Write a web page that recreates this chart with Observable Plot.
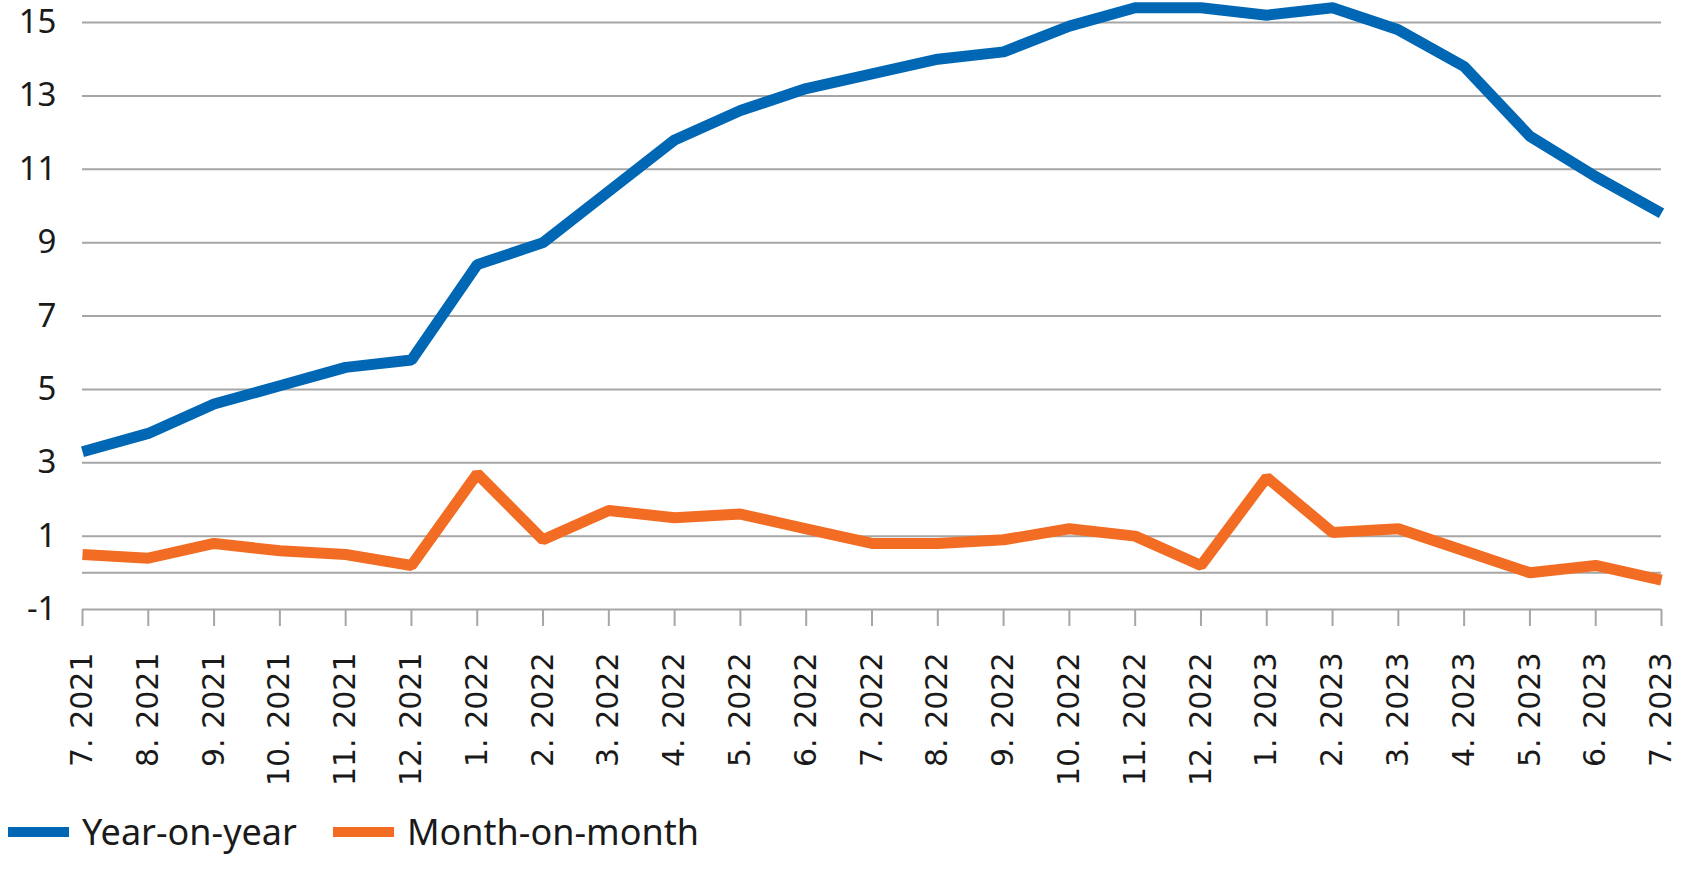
<!DOCTYPE html>
<html>
<head>
<meta charset="utf-8">
<script src="https://cdn.jsdelivr.net/npm/d3@7"></script>
<script src="https://cdn.jsdelivr.net/npm/@observablehq/plot@0.6"></script>
<style>
  html, body { margin: 0; padding: 0; background: #fff; }
  #wrap { position: relative; width: 1683px; height: 881px; overflow: hidden; }
  #legend { position: absolute; left: 8px; top: 807px; display: flex; align-items: center;
    font-family: "Noto Sans", "Open Sans", sans-serif; font-size: 36px; color: #1a1a1a; white-space: nowrap; }
  .item { display: flex; align-items: center; margin-right: 36px; }
  .sw { width: 61px; height: 10px; margin-right: 13px; }
</style>
</head>
<body>
<div id="wrap">
  <div id="chart"></div>
  <div id="legend"></div>
</div>
<script>
const months = ["7. 2021","8. 2021","9. 2021","10. 2021","11. 2021","12. 2021",
  "1. 2022","2. 2022","3. 2022","4. 2022","5. 2022","6. 2022","7. 2022","8. 2022",
  "9. 2022","10. 2022","11. 2022","12. 2022","1. 2023","2. 2023","3. 2023","4. 2023",
  "5. 2023","6. 2023","7. 2023"];
const yearOnYear = [3.3, 3.8, 4.6, 5.1, 5.6, 5.8, 8.4, 9.0, 10.4, 11.8, 12.6, 13.2, 13.6,
  14.0, 14.2, 14.9, 15.4, 15.4, 15.2, 15.4, 14.8, 13.8, 11.9, 10.8, 9.8];
const monthOnMonth = [0.5, 0.4, 0.8, 0.6, 0.5, 0.2, 2.7, 0.9, 1.7, 1.5, 1.6, 1.2, 0.8,
  0.8, 0.9, 1.2, 1.0, 0.2, 2.6, 1.1, 1.2, 0.6, 0.0, 0.2, -0.2];
const seriesNames = ["Year-on-year", "Month-on-month"];
const seriesColors = ["#0067b4", "#f36c23"];
const yTickValues = [-1, 1, 3, 5, 7, 9, 11, 13, 15];
const gridValues = [-1, 0, 1, 3, 5, 7, 9, 11, 13, 15];

const data = months.map((m, i) => ({month: m, yoy: yearOnYear[i], mom: monthOnMonth[i]}));

const chart = Plot.plot({
  width: 1683,
  height: 790,
  marginLeft: 82,
  marginRight: 22,
  marginTop: 22,
  marginBottom: 181,
  style: {background: "#fff", color: "#1a1a1a", overflow: "visible"},
  x: {type: "point", domain: months, padding: 0, round: false},
  y: {domain: [-1, 15]},
  marks: [
    Plot.ruleY(gridValues, {stroke: "#a6a6a6", strokeWidth: 2}),
    Plot.axisY(yTickValues, {tickSize: 0, tickPadding: 26, fontSize: 33,
      fontFamily: "Noto Sans", fill: "#1a1a1a", tickFormat: d => String(d)}),
    Plot.axisX({tickSize: 17, tickPadding: 26, tickRotate: -90, fontSize: 30,
      fontFamily: "DejaVu Sans", stroke: "#a6a6a6", strokeWidth: 2, fill: "#1a1a1a", label: null}),
    Plot.lineY(data, {x: "month", y: "mom", stroke: seriesColors[1], strokeWidth: 11,
      strokeLinejoin: "miter", strokeLinecap: "butt"}),
    Plot.lineY(data, {x: "month", y: "yoy", stroke: seriesColors[0], strokeWidth: 11,
      strokeLinejoin: "miter", strokeLinecap: "butt"})
  ]
});
document.getElementById("chart").appendChild(chart);

const legend = document.getElementById("legend");
seriesNames.forEach((name, i) => {
  const item = document.createElement("div");
  item.className = "item";
  const sw = document.createElement("div");
  sw.className = "sw";
  sw.style.background = seriesColors[i];
  const label = document.createElement("span");
  label.textContent = name;
  item.appendChild(sw);
  item.appendChild(label);
  legend.appendChild(item);
});
</script>
</body>
</html>
